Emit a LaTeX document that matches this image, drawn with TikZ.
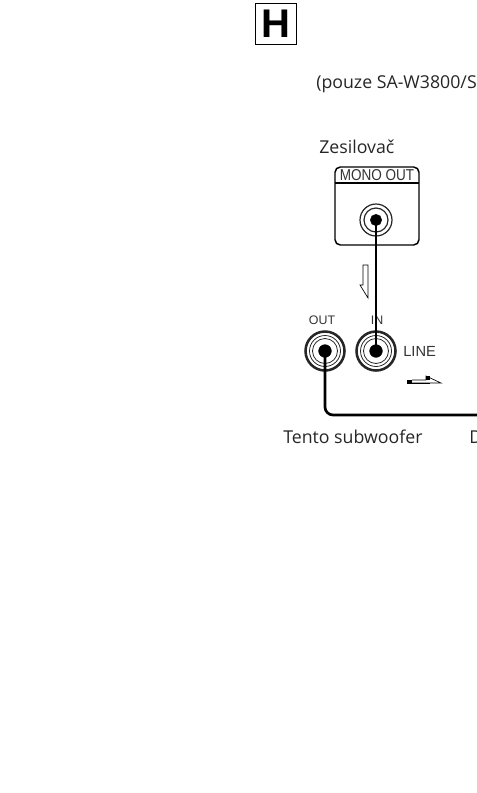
\documentclass[tikz,border=0pt]{standalone}
\usepackage{fontspec}
\setmainfont{Open Sans}
\newfontfamily\labelfont{Liberation Sans}
\newfontfamily\narrowfont[FakeStretch=0.86]{Liberation Sans}
\usetikzlibrary{positioning}
\tikzset{
  px/.style = {x = 0.75pt, y = -0.75pt},
  caption/.style = {anchor = base west, inner sep = 0, font = \fontsize{13.3pt}{16pt}\selectfont, text = black!85},
  panel/.style = {anchor = center, inner sep = 0, font = \labelfont\fontsize{9.3pt}{11pt}\selectfont, text = black!80},
  jack/.style = {circle, draw, fill = black, minimum size = 9.5pt, inner sep = 0},
  cable/.style = {line width = 2pt, rounded corners = 6pt},
  ring/.style = {draw, line width = 0.6pt, black!85},
  hollow/.style = {draw, line width = 0.5pt, fill = white}
}
\begin{document}
\begin{tikzpicture}[px]
\useasboundingbox (0,0) rectangle (477,793);
\clip (0,0) rectangle (477,793);
\node[draw, line width = 1.1pt, minimum size = 31pt, inner sep = 0, font = \labelfont\bfseries\fontsize{30pt}{30pt}\selectfont] (letter) at (276,24) {H};
\node[caption] (note) at (316,88) {(pouze SA-W3800/S};
\node[caption] (amp) at (319,153) {Zesilovač};
\node[caption] (this) at (283,443) {Tento subwoofer};
\node[caption] (other) at (469,443) {D};
% amplifier
\draw[line width = 1.1pt, rounded corners = 4pt] (335,167) rectangle (419,245);
\draw[line width = 1.1pt] (335,183) -- (419,183);
\node[panel, font = \narrowfont\fontsize{11.8pt}{12pt}\selectfont] (mono) at (377,175.5) {MONO OUT};
\draw[ring, line width = 0.9pt] (376,220) circle [radius = 16];
\draw[ring, line width = 0.9pt] (376,220) circle [radius = 12];
\node[jack, minimum size = 8.5pt] (ampjack) at (376,220) {};
% line inputs
\foreach \name/\cx in {outjack/325, injack/376} {
  \draw[ring, line width = 1.9pt] (\cx,351) circle [radius = 19.5];
  \draw[ring] (\cx,351) circle [radius = 15.5];
  \draw[ring] (\cx,351) circle [radius = 12.5];
  \node[jack] (\name) at (\cx,351) {};
}
\node[panel] (outlabel) at (322,320.5) {OUT};
\node[panel] (inlabel) at (377,320.5) {IN};
\node[panel, font = \labelfont\fontsize{11pt}{12pt}\selectfont, anchor = west] (line) at (403,351) {LINE};
% cables
\coordinate (edge) at (477,415);
\draw[cable] (ampjack.center) -- (injack.center);
\draw[cable] (outjack.center) |- (edge);
% signal arrows
\draw[hollow] (363,265) -- (368,265) -- (368,298) -- (360,285) -- (363,285) -- cycle;
\draw[hollow] (412,380) -- (426,380) -- (426,376) -- (441,383) -- (412,383);
\fill (407,380) rectangle (412,384);
\fill (426,376) rectangle (430,380);
\draw[line width = 0.8pt] (407,383.5) -- (430,383.5);
\end{tikzpicture}
\end{document}
